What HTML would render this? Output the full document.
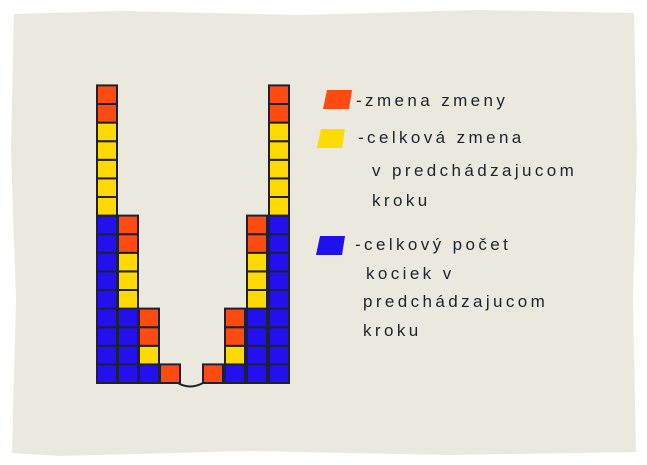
<!DOCTYPE html>
<html><head><meta charset="utf-8"><style>
html,body{margin:0;padding:0;background:#fff;}
svg{display:block}
text{font-family:"Liberation Sans",sans-serif;fill:#1c2233;font-size:17px;letter-spacing:3.4px}
</style></head><body>
<svg id="c" width="647" height="465" viewBox="0 0 647 465">
<path d="M14,14 L120,11 L300,15 L480,10 L634,13 L637,150 L633,300 L636,452 L450,455 L250,451 L60,456 L12,453 L16,300 L11,150 Z" fill="#ebe9dd"/>
<g id="bars"></g>
<path d="M178,383 Q190,390 203,383" stroke="#1c2233" stroke-width="2" fill="none"/>
<g>
<polygon points="327,90 352,90 349,109 323,109" fill="#ff4a12"/>
<text x="356" y="106">-zmena zmeny</text>
<polygon points="321,129 345,129 342,148 317,148" fill="#ffdc00"/>
<text x="358" y="143">-celková zmena</text>
<text x="372" y="176">v predchádzajucom</text>
<text x="372" y="206">kroku</text>
<polygon points="320,236 345,236 342,255 316,255" fill="#1f10ee"/>
<text x="355" y="250">-celkový počet</text>
<text x="366" y="279">kociek v</text>
<text x="363" y="307">predchádzajucom</text>
<text x="363" y="336">kroku</text>
</g>
</svg>
<script>
const columns=["c1","c2","c3","c4","c4r","c3r","c2r","c1r"];
const redCounts=[2,2,2,1,1,2,2,2];
const yellowCounts=[5,3,1,0,0,1,3,5];
const blueCounts=[9,4,1,0,0,1,4,9];
const cellH=18.6, baseY=383;
function xPos(i){return i<4?97+i*21:203+(i-4)*22;}
function yPos(k){return baseY-(k+1)*cellH;}
const g=document.getElementById('bars');
const NS="http://www.w3.org/2000/svg";
columns.forEach((col,i)=>{
  const stack=[];
  for(let k=0;k<blueCounts[i];k++)stack.push('#2410ee');
  for(let k=0;k<yellowCounts[i];k++)stack.push('#ffd900');
  for(let k=0;k<redCounts[i];k++)stack.push('#ff4a12');
  stack.forEach((c,k)=>{
    const r=document.createElementNS(NS,'rect');
    r.setAttribute('x',xPos(i));r.setAttribute('y',yPos(k));
    r.setAttribute('width',20);r.setAttribute('height',cellH);
    r.setAttribute('fill',c);r.setAttribute('stroke','#1c2233');r.setAttribute('stroke-width','2');
    
    
    g.appendChild(r);
  });
});
</script>
</body></html>
